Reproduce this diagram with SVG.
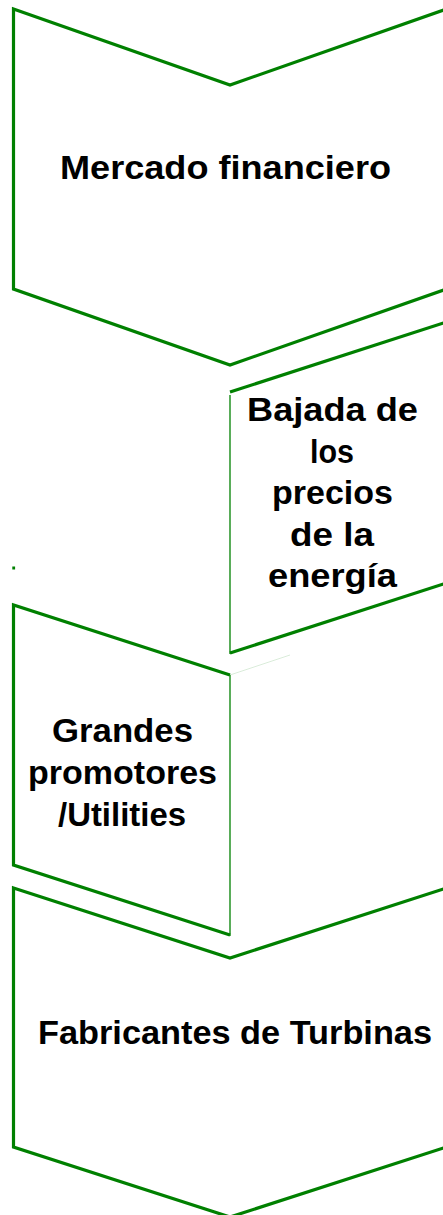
<svg xmlns="http://www.w3.org/2000/svg" width="443" height="1215" viewBox="0 0 443 1215">
<style>
.edge{fill:none;stroke:#008000;stroke-width:3.2;stroke-linejoin:miter}
.thin{fill:none;stroke:#008000;stroke-width:1.3}
.bg{fill:#ffffff;stroke:none}
.lbl{font-family:"Century Gothic","URW Gothic","Liberation Sans",Arial,sans-serif;font-weight:bold;font-size:34px;fill:#000000;text-anchor:middle}
</style>
<rect x="0" y="0" width="443" height="1215" fill="#ffffff"/>
<g id="node-mercado">
<polygon class="bg" points="13.5,9 230,85 446.5,9 446.5,289 230,365 13.5,289"/>
<polygon class="edge" points="13.5,9 230,85 446.5,9 446.5,289 230,365 13.5,289"/>
<text class="lbl" x="225.5" y="179" textLength="331" lengthAdjust="spacingAndGlyphs">Mercado financiero</text>
</g>
<g id="node-bajada">
<polygon class="bg" points="230,392 446.5,322 446.5,583 230,653"/>
<polyline class="edge" points="230,392 446.5,322"/>
<polyline class="edge" points="446.5,583 230,653"/>
<line class="thin" x1="230" y1="395" x2="230" y2="654"/>
<text class="lbl" x="332.5" y="421" textLength="171" lengthAdjust="spacingAndGlyphs">Bajada de</text>
<text class="lbl" x="332" y="462.5" textLength="44" lengthAdjust="spacingAndGlyphs">los</text>
<text class="lbl" x="332.5" y="504" textLength="121" lengthAdjust="spacingAndGlyphs">precios</text>
<text class="lbl" x="332" y="545.5" textLength="84" lengthAdjust="spacingAndGlyphs">de la</text>
<text class="lbl" x="332.5" y="587" textLength="129" lengthAdjust="spacingAndGlyphs">energía</text>
</g>
<rect id="mark" x="12.3" y="566.5" width="2.8" height="3" fill="#008000"/>
<g id="node-grandes">
<polygon class="bg" points="13.5,605 230,675 230,935 13.5,865"/>
<polyline class="edge" points="230,675 13.5,605 13.5,865 230,935"/>
<line class="thin" x1="230" y1="675" x2="230" y2="936"/>
<line x1="230" y1="675" x2="290" y2="655" stroke="#008000" stroke-width="0.5" stroke-opacity="0.3"/>
<text class="lbl" x="122.5" y="742" textLength="141" lengthAdjust="spacingAndGlyphs">Grandes</text>
<text class="lbl" x="122.5" y="784" textLength="189" lengthAdjust="spacingAndGlyphs">promotores</text>
<text class="lbl" x="122" y="826" textLength="128" lengthAdjust="spacingAndGlyphs">/Utilities</text>
</g>
<g id="node-fabricantes">
<polygon class="bg" points="13.5,888 230,958 446.5,888 446.5,1147 230,1217 13.5,1147"/>
<polygon class="edge" points="13.5,888 230,958 446.5,888 446.5,1147 230,1217 13.5,1147"/>
<text class="lbl" x="235" y="1044" textLength="394" lengthAdjust="spacingAndGlyphs">Fabricantes de Turbinas</text>
</g>
</svg>
